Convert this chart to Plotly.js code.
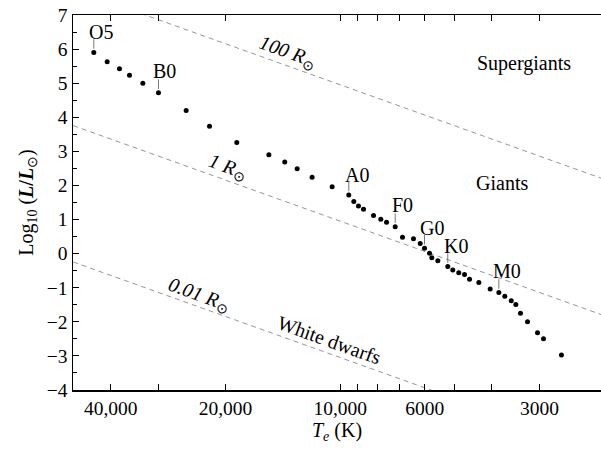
<!DOCTYPE html>
<html>
<head>
<meta charset="utf-8">
<script src="https://cdn.plot.ly/plotly-3.0.1.min.js"></script>
<style>html,body{margin:0;padding:0;background:#fff;overflow:hidden}#chart{width:601px;height:449px}</style>
</head>
<body>
<div id="chart"></div>
<script>
// Main-sequence stars: effective temperature (K) and log10(L/Lsun)
const temps = [44330, 40890, 37960, 35730, 32960, 29990, 25370, 22030, 18680, 15390, 13980, 12970, 11850, 10500, 9495, 9210, 8955, 8685, 8177, 7824, 7557, 7172, 6863, 6422, 6166, 6008, 5829, 5749, 5543, 5220, 5065, 4884, 4718, 4577, 4327, 4040, 3834, 3698, 3557, 3460, 3364, 3224, 3035, 2927, 2626];
const logLum = [5.90, 5.63, 5.42, 5.23, 5.00, 4.72, 4.20, 3.74, 3.26, 2.90, 2.69, 2.49, 2.24, 1.96, 1.72, 1.53, 1.40, 1.30, 1.12, 1.01, 0.92, 0.79, 0.48, 0.44, 0.30, 0.16, 0.01, -0.12, -0.21, -0.38, -0.48, -0.56, -0.61, -0.75, -0.85, -1.04, -1.14, -1.25, -1.38, -1.49, -1.75, -2.00, -2.32, -2.50, -2.97];

// Spectral class labels and the star each one marks
const classNames = ['O5', 'B0', 'A0', 'F0', 'G0', 'K0', 'M0'];
const classIndex = [0, 5, 14, 21, 25, 29, 36];

// Constant-radius lines (solar radii)
const radii = [100, 1, 0.01];
const radiusLabels = ['100', '1', '0.01'];
const lineTemps = [1500, 80000];
const T_SUN = 5778;

// Region labels
const regionNames = ['Supergiants', 'Giants'];
const regionTemps = [3293, 3761];
const regionLogL = [5.59, 2.07];

// X tick labels
const xTickVals = [40000, 30000, 20000, 10000, 9000, 8000, 7000, 6000, 5000, 4000, 3000];
const xTickText = ['40,000', '', '20,000', '10,000', '', '', '', '6000', '', '', '3000'];

const FONT = 'Liberation Serif, Times New Roman, Times, serif';
const lumAt = (R, T) => 2 * Math.log10(R) + 4 * (Math.log10(T) - Math.log10(T_SUN));

const traces = [];
radii.forEach(R => {
  traces.push({
    x: lineTemps, y: lineTemps.map(T => lumAt(R, T)),
    mode: 'lines', type: 'scatter', hoverinfo: 'skip', showlegend: false,
    line: {color: '#8a8a8a', width: 0.9, dash: '5px,4px'}
  });
});

// leader lines from labels to stars
const lx = [], ly = [];
classIndex.forEach(i => { lx.push(temps[i], temps[i], null); ly.push(logLum[i] + 0.11, logLum[i] + 0.39, null); });
traces.push({x: lx, y: ly, mode: 'lines', type: 'scatter', hoverinfo: 'skip', showlegend: false,
  line: {color: '#555', width: 0.8}});

traces.push({
  x: temps, y: logLum, mode: 'markers', type: 'scatter', showlegend: false,
  marker: {color: '#000', size: 5}
});

const classShift = [[7, 21], [6, 22], [8, 20], [7, 22], [7.5, 20], [8, 21], [8, 22]];
const annotations = [];
classNames.forEach((n, k) => {
  const i = classIndex[k];
  annotations.push({x: Math.log10(temps[i]), y: logLum[i], text: n, showarrow: false,
    xshift: classShift[k][0], yshift: classShift[k][1], font: {family: FONT, size: 20, color: '#000'}});
});
regionNames.forEach((n, k) => {
  annotations.push({x: Math.log10(regionTemps[k]), y: regionLogL[k], text: n, showarrow: false,
    font: {family: FONT, size: 20, color: '#000'}});
});
// radius labels placed along each line
const radLabelTemps = [13750, 19760, 23410];
const radLabelShift = [13, 13, 12];
radii.forEach((R, k) => {
  const T = radLabelTemps[k];
  annotations.push({x: Math.log10(T), y: lumAt(R, T), yshift: radLabelShift[k], textangle: 19.7,
    text: '<i>' + radiusLabels[k] + ' R</i><sub>⊙</sub>', showarrow: false,
    font: {family: FONT, size: 20, color: '#000'}});
});
annotations.push({x: Math.log10(10670), y: lumAt(0.01, 10670), yshift: 13.5, textangle: 19.7,
  text: 'White dwarfs', showarrow: false, font: {family: FONT, size: 20, color: '#000'}});

const layout = {
  width: 601, height: 449,
  margin: {l: 73, r: 0, t: 15, b: 59},
  paper_bgcolor: '#fff', plot_bgcolor: '#fff',
  font: {family: FONT, size: 19.5, color: '#000'},
  showlegend: false,
  xaxis: {
    type: 'log', autorange: false, range: [4.7013, 3.3155],
    tickvals: xTickVals, ticktext: xTickText, tickangle: 0,
    ticks: 'inside', ticklen: 6, tickwidth: 1, tickcolor: '#000',
    showline: true, linecolor: '#000', linewidth: 1.5, mirror: 'ticks',
    showgrid: false, zeroline: false,
    tickfont: {family: FONT, size: 19.5, color: '#000'},
    title: {text: '<i>T<sub>e</sub></i> (K)', font: {family: FONT, size: 20, color: '#000'}, standoff: 3}
  },
  yaxis: {
    autorange: false, range: [-4, 7], dtick: 1, tick0: 0,
    ticks: 'inside', ticklen: 6, tickwidth: 1, tickcolor: '#000',
    minor: {dtick: 0.5, ticks: 'inside', ticklen: 4, tickcolor: '#000', showgrid: false},
    showline: true, linecolor: '#000', linewidth: 1.5, mirror: false,
    showgrid: false, zeroline: false,
    tickfont: {family: FONT, size: 19.5, color: '#000'},
    title: {text: 'Log<sub>10</sub> (<b><i>L</i>/<i>L</i></b><sub>⊙</sub>)', font: {family: FONT, size: 20, color: '#000'}, standoff: 8}
  },
  annotations: annotations
};

Plotly.newPlot('chart', traces, layout, {staticPlot: true, displayModeBar: false});
</script>
</body>
</html>
